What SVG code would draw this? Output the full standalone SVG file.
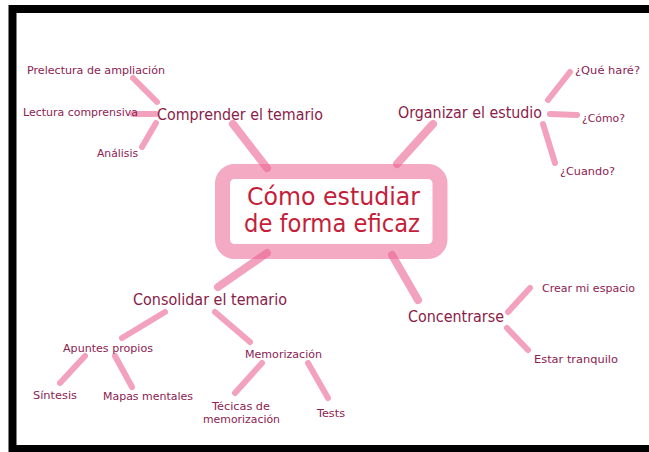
<svg xmlns="http://www.w3.org/2000/svg" width="649" height="452" viewBox="0 0 649 452">
<style>
.lbl{font-family:"DejaVu Sans",Verdana,sans-serif;fill:#8b2252}
.s{font-size:11px}
.m{font-size:16px;fill:#8a2048}
.t{font-family:"DejaVu Sans",Verdana,sans-serif;font-size:25px;fill:#c41e3a}
.ln{stroke:#eb6491;stroke-opacity:0.6;stroke-linecap:round;fill:none}
.th{stroke-width:6}
.tk{stroke-width:8}
</style>
<rect x="0" y="0" width="649" height="452" fill="#ffffff"/>
<rect x="12.5" y="9" width="650" height="440" fill="none" stroke="#000" stroke-width="8"/>
<g id="center">
<rect x="222.5" y="171.5" width="217.5" height="80" rx="12" fill="#ffffff" stroke="#eb6491" stroke-opacity="0.55" stroke-width="15"/>
<text class="t" x="247" y="205" textLength="173" lengthAdjust="spacingAndGlyphs">Cómo estudiar</text>
<text class="t" x="244" y="232" textLength="176" lengthAdjust="spacingAndGlyphs">de forma eficaz</text>
</g>
<g id="connectors">
<line class="ln tk" x1="233" y1="124" x2="267" y2="168"/>
<line class="ln tk" x1="433" y1="124" x2="397" y2="164"/>
<line class="ln tk" x1="267" y1="253" x2="218" y2="287"/>
<line class="ln tk" x1="392" y1="255" x2="418" y2="300"/>
<line class="ln th" x1="133" y1="78" x2="157" y2="102"/>
<line class="ln th" x1="133" y1="114" x2="156" y2="114"/>
<line class="ln th" x1="156" y1="123" x2="142" y2="147"/>
<line class="ln th" x1="548" y1="100" x2="570" y2="72"/>
<line class="ln th" x1="550" y1="114" x2="577" y2="115"/>
<line class="ln th" x1="543" y1="124" x2="555" y2="163"/>
<line class="ln th" x1="165" y1="312" x2="122" y2="338"/>
<line class="ln th" x1="215" y1="312" x2="250" y2="342"/>
<line class="ln th" x1="85" y1="356" x2="60" y2="383"/>
<line class="ln th" x1="115" y1="356" x2="132" y2="387"/>
<line class="ln th" x1="262" y1="363" x2="235" y2="393"/>
<line class="ln th" x1="308" y1="363" x2="328" y2="398"/>
<line class="ln th" x1="508" y1="312" x2="530" y2="288"/>
<line class="ln th" x1="507" y1="328" x2="528" y2="350"/>
</g>
<g id="comprender"><text class="lbl m" x="157" y="120" textLength="166" lengthAdjust="spacingAndGlyphs">Comprender el temario</text></g>
<g id="prelectura"><text class="lbl s" x="27" y="74" textLength="138" lengthAdjust="spacingAndGlyphs">Prelectura de ampliación</text></g>
<g id="lectura"><text class="lbl s" x="23" y="116" textLength="115" lengthAdjust="spacingAndGlyphs">Lectura comprensiva</text></g>
<g id="analisis"><text class="lbl s" x="97" y="157" textLength="41" lengthAdjust="spacingAndGlyphs">Análisis</text></g>
<g id="organizar"><text class="lbl m" x="398" y="118" textLength="144" lengthAdjust="spacingAndGlyphs">Organizar el estudio</text></g>
<g id="quehare"><text class="lbl s" x="575" y="74" textLength="65" lengthAdjust="spacingAndGlyphs">¿Qué haré?</text></g>
<g id="como"><text class="lbl s" x="582" y="122" textLength="43" lengthAdjust="spacingAndGlyphs">¿Cómo?</text></g>
<g id="cuando"><text class="lbl s" x="560" y="175" textLength="55" lengthAdjust="spacingAndGlyphs">¿Cuando?</text></g>
<g id="consolidar"><text class="lbl m" x="133" y="305" textLength="154" lengthAdjust="spacingAndGlyphs">Consolidar el temario</text></g>
<g id="apuntes"><text class="lbl s" x="63" y="352" textLength="90" lengthAdjust="spacingAndGlyphs">Apuntes propios</text></g>
<g id="memorizacion"><text class="lbl s" x="245" y="358" textLength="77" lengthAdjust="spacingAndGlyphs">Memorización</text></g>
<g id="sintesis"><text class="lbl s" x="33" y="399" textLength="44" lengthAdjust="spacingAndGlyphs">Síntesis</text></g>
<g id="mapas"><text class="lbl s" x="103" y="400" textLength="90" lengthAdjust="spacingAndGlyphs">Mapas mentales</text></g>
<g id="tecnicas"><text class="lbl s" x="212" y="410" textLength="58" lengthAdjust="spacingAndGlyphs">Técicas de</text><text class="lbl s" x="203" y="423" textLength="77" lengthAdjust="spacingAndGlyphs">memorización</text></g>
<g id="tests"><text class="lbl s" x="317" y="417" textLength="28" lengthAdjust="spacingAndGlyphs">Tests</text></g>
<g id="concentrarse"><text class="lbl m" x="408" y="322" textLength="96" lengthAdjust="spacingAndGlyphs">Concentrarse</text></g>
<g id="crear"><text class="lbl s" x="542" y="292" textLength="93" lengthAdjust="spacingAndGlyphs">Crear mi espacio</text></g>
<g id="estar"><text class="lbl s" x="534" y="363" textLength="84" lengthAdjust="spacingAndGlyphs">Estar tranquilo</text></g>
</svg>
